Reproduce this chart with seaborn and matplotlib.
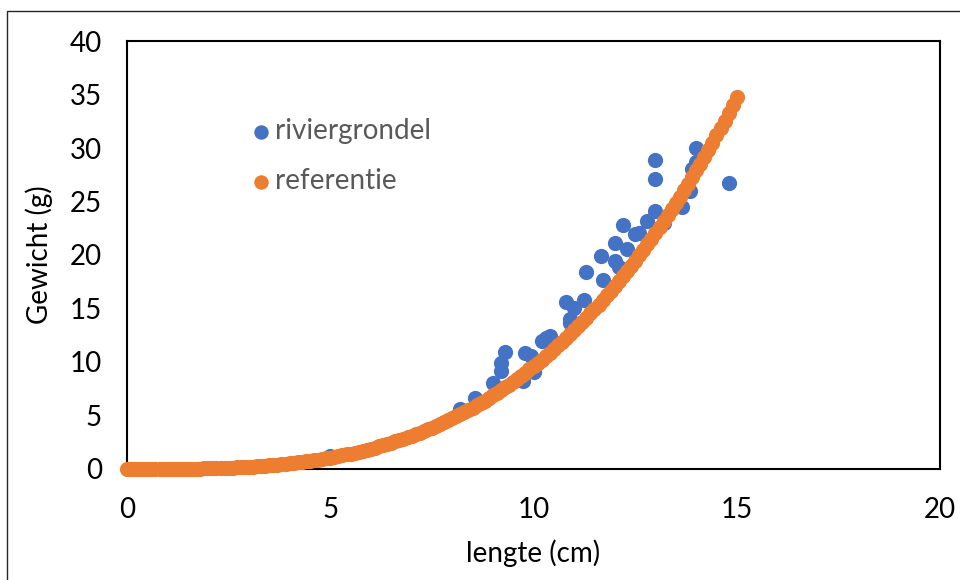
import matplotlib
matplotlib.use('Agg')
import matplotlib.pyplot as plt
import seaborn as sns
from matplotlib.patches import Rectangle

# measured fish (riviergrondel)
vis_lengte = [5.0, 8.2, 8.55, 9.0, 9.2, 9.2, 9.3, 9.75, 9.8, 10.0, 9.95,
              10.2, 10.3, 10.4, 10.8, 10.9, 10.9, 11.0, 11.25, 11.3, 11.65,
              11.7, 12.0, 12.0, 12.1, 12.2, 12.3, 12.5, 12.6, 12.8, 13.0,
              13.0, 13.0, 13.2, 13.65, 13.85, 13.9, 14.0, 14.0, 14.8]
vis_gewicht = [1.2, 5.6, 6.6, 8.0, 9.2, 9.9, 10.9, 8.2, 10.8, 9.1, 10.6,
               12.0, 12.2, 12.4, 15.6, 14.0, 13.6, 15.0, 15.8, 18.4, 19.9,
               17.7, 21.1, 19.4, 18.9, 22.8, 20.6, 22.0, 22.1, 23.2, 28.9,
               27.1, 24.1, 23.0, 24.5, 26.0, 28.0, 28.7, 30.0, 26.7]

# reference curve (referentie), read at 0.1 cm steps
ref_lengte = [0.0, 0.1, 0.2, 0.3, 0.4, 0.5, 0.6, 0.7, 0.8, 0.9,
              1.0, 1.1, 1.2, 1.3, 1.4, 1.5, 1.6, 1.7, 1.8, 1.9,
              2.0, 2.1, 2.2, 2.3, 2.4, 2.5, 2.6, 2.7, 2.8, 2.9,
              3.0, 3.1, 3.2, 3.3, 3.4, 3.5, 3.6, 3.7, 3.8, 3.9,
              4.0, 4.1, 4.2, 4.3, 4.4, 4.5, 4.6, 4.7, 4.8, 4.9,
              5.0, 5.1, 5.2, 5.3, 5.4, 5.5, 5.6, 5.7, 5.8, 5.9,
              6.0, 6.1, 6.2, 6.3, 6.4, 6.5, 6.6, 6.7, 6.8, 6.9,
              7.0, 7.1, 7.2, 7.3, 7.4, 7.5, 7.6, 7.7, 7.8, 7.9,
              8.0, 8.1, 8.2, 8.3, 8.4, 8.5, 8.6, 8.7, 8.8, 8.9,
              9.0, 9.1, 9.2, 9.3, 9.4, 9.5, 9.6, 9.7, 9.8, 9.9,
              10.0, 10.1, 10.2, 10.3, 10.4, 10.5, 10.6, 10.7, 10.8, 10.9,
              11.0, 11.1, 11.2, 11.3, 11.4, 11.5, 11.6, 11.7, 11.8, 11.9,
              12.0, 12.1, 12.2, 12.3, 12.4, 12.5, 12.6, 12.7, 12.8, 12.9,
              13.0, 13.1, 13.2, 13.3, 13.4, 13.5, 13.6, 13.7, 13.8, 13.9,
              14.0, 14.1, 14.2, 14.3, 14.4, 14.5, 14.6, 14.7, 14.8, 14.9,
              15.0]
ref_gewicht = [0.00, 0.00, 0.00, 0.00, 0.00, 0.00, 0.00, 0.00, 0.00, 0.00,
               0.01, 0.01, 0.01, 0.01, 0.02, 0.02, 0.03, 0.03, 0.04, 0.05,
               0.06, 0.07, 0.08, 0.09, 0.10, 0.12, 0.13, 0.15, 0.17, 0.19,
               0.21, 0.23, 0.26, 0.29, 0.31, 0.34, 0.38, 0.41, 0.45, 0.49,
               0.53, 0.57, 0.61, 0.66, 0.71, 0.76, 0.82, 0.88, 0.94, 1.00,
               1.07, 1.14, 1.21, 1.28, 1.36, 1.44, 1.53, 1.62, 1.71, 1.80,
               1.90, 2.00, 2.11, 2.22, 2.33, 2.45, 2.57, 2.70, 2.83, 2.96,
               3.10, 3.24, 3.39, 3.54, 3.70, 3.86, 4.02, 4.19, 4.37, 4.55,
               4.73, 4.92, 5.12, 5.32, 5.52, 5.74, 5.95, 6.17, 6.40, 6.64,
               6.88, 7.12, 7.37, 7.63, 7.89, 8.16, 8.44, 8.72, 9.01, 9.30,
               9.60, 9.91, 10.22, 10.54, 10.87, 11.21, 11.55, 11.90, 12.25, 12.62,
               12.99, 13.37, 13.75, 14.15, 14.55, 14.95, 15.37, 15.79, 16.23, 16.67,
               17.12, 17.57, 18.04, 18.51, 18.99, 19.48, 19.98, 20.48, 21.00, 21.53,
               22.06, 22.60, 23.15, 23.71, 24.28, 24.86, 25.45, 26.05, 26.65, 27.27,
               27.90, 28.54, 29.18, 29.84, 30.50, 31.18, 31.87, 32.56, 33.27, 33.99,
               34.72]

x_ticks = [0, 5, 10, 15, 20]
y_ticks = [0, 5, 10, 15, 20, 25, 30, 35, 40]

sns.set_theme(style='white')
plt.rcParams['font.family'] = ['Lato', 'DejaVu Sans']

fig = plt.figure(figsize=(9.6, 5.8), dpi=100)
ax = fig.add_axes([0.1323, 0.1914, 0.8469, 0.7379])

# outer chart border (cut off at right and bottom in the original)
fig.patches.append(Rectangle((7 / 960, -0.05), 1.2, (580 - 11) / 580 + 0.05,
                             transform=fig.transFigure, fill=False,
                             edgecolor='#262626', linewidth=1.0))

sns.scatterplot(x=vis_lengte, y=vis_gewicht, ax=ax, color='#4472C4', s=120,
                linewidth=0, label='riviergrondel', clip_on=False, zorder=3)
sns.scatterplot(x=ref_lengte, y=ref_gewicht, ax=ax, color='#ED7D31', s=120,
                linewidth=0, label='referentie', clip_on=False, zorder=4)

ax.set_xlim(0, 20)
ax.set_ylim(0, 40)
ax.set_xticks(x_ticks)
ax.set_yticks(y_ticks)
ax.tick_params(axis='both', length=0, labelsize=20, colors='black')
ax.tick_params(axis='x', pad=20)
ax.tick_params(axis='y', pad=18)
for sp in ax.spines.values():
    sp.set_color('black')
    sp.set_linewidth(1.5)

ax.set_xlabel('lengte (cm)', fontsize=20, color='black', labelpad=12)
ax.set_ylabel('Gewicht (g)', fontsize=20, color='black', labelpad=12)

leg = ax.legend(loc='upper left', bbox_to_anchor=(0.138, 0.845), frameon=False,
                fontsize=20, labelspacing=0.86, handlelength=0.8,
                handletextpad=0.1, markerscale=0.95, borderaxespad=0)
for t in leg.get_texts():
    t.set_color('#595959')

fig.savefig('out.png', dpi=100)
